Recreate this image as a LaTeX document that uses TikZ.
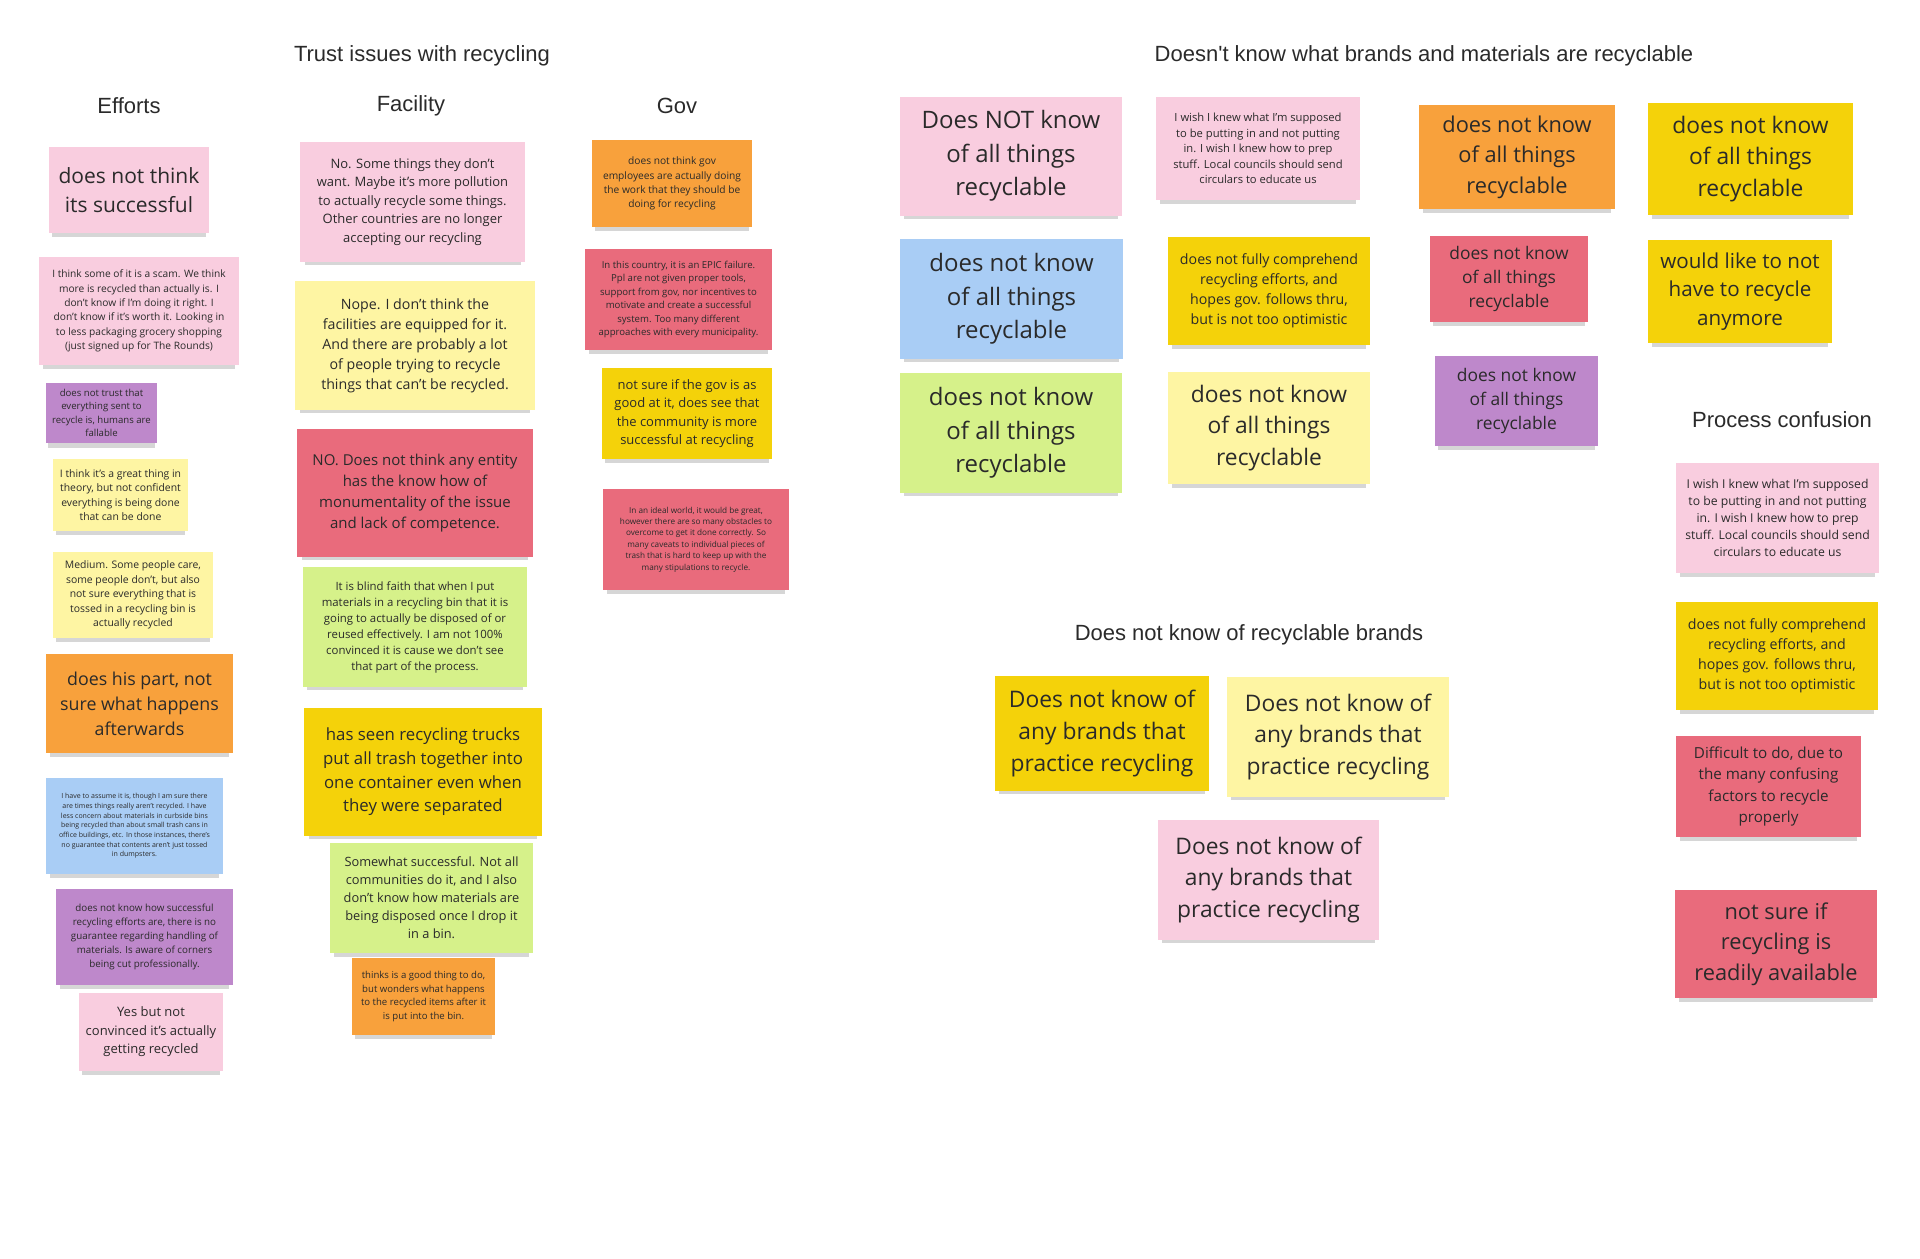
\documentclass[tikz,border=0pt]{standalone}
\usepackage{fontspec}
\setmainfont{Open Sans}
\newfontfamily\titlefont{Liberation Sans}
\usetikzlibrary{shadows}
\definecolor{pk}{HTML}{F9CDDF}
\definecolor{ly}{HTML}{FEF5A3}
\definecolor{yl}{HTML}{F4D20A}
\definecolor{og}{HTML}{F8A13C}
\definecolor{rd}{HTML}{E96B7C}
\definecolor{pu}{HTML}{BE88CB}
\definecolor{bl}{HTML}{A9CDF5}
\definecolor{lg}{HTML}{D6F18A}
\definecolor{txt}{HTML}{2A2A2A}
\newcommand\fz[2]{\fontsize{#1}{#2}\selectfont}
\tikzset{
  sticky/.style={draw=none, inner sep=0pt, align=center, text=txt,
    drop shadow={shadow xshift=0pt, shadow yshift=-3pt, opacity=0.16, fill=black, shadow scale=0.96}},
  sz/.style 2 args={minimum width=#1*0.5pt, minimum height=#2*0.5pt},
  ttl/.style={inner sep=0pt, text=txt, font={\titlefont\fz{11}{13}}}
}
\begin{document}
\begin{tikzpicture}[x=0.5pt, y=-0.5pt]
\useasboundingbox (0,0) rectangle (1920,1258);
% titles
\node[ttl] (t1) at (422,56) {Trust issues with recycling};
\node[ttl] (t2) at (1424,56) {Doesn't know what brands and materials are recyclable};
\node[ttl] (h1) at (129,106) {Efforts};
\node[ttl] (h2) at (411,106) {Facility};
\node[ttl] (h3) at (677,106) {Gov};
\node[ttl] (h4) at (1782,420) {Process confusion};
\node[ttl] (h5) at (1249,635) {Does not know of recyclable brands};
% Efforts
\node[sticky, fill=pk, sz={160}{86}, font={\fz{10.5}{14.7}}] (e1) at (129,190) {does not think\\its successful};
\node[sticky, fill=pk, sz={200}{108}, font={\fz{5.1}{7.2}}] (e2) at (139,311) {I think some of it is a scam. We think\\more is recycled than actually is. I\\don't know if I'm doing it right. I\\don't know if it's worth it. Looking in\\to less packaging grocery shopping\\(just signed up for The Rounds)};
\node[sticky, fill=pu, sz={111}{60}, font={\fz{4.8}{6.7}}] (e3) at (101.5,413) {does not trust that\\everything sent to\\recycle is, humans are\\fallable};
\node[sticky, fill=ly, sz={135}{72}, font={\fz{5.2}{7.25}}] (e4) at (120.5,495) {I think it's a great thing in\\theory, but not confident\\everything is being done\\that can be done};
\node[sticky, fill=ly, sz={160}{86}, font={\fz{5.2}{7.25}}] (e5) at (133,595) {Medium. Some people care,\\some people don't, but also\\not sure everything that is\\tossed in a recycling bin is\\actually recycled};
\node[sticky, fill=og, sz={187}{99}, font={\fz{8.9}{12.5}}] (e6) at (139.5,703.5) {does his part, not\\sure what happens\\afterwards};
\node[sticky, fill=bl, sz={177}{96}, font={\fz{3.5}{4.85}}] (e7) at (134.5,826) {I have to assume it is, though I am sure there\\are times things really aren't recycled. I have\\less concern about materials in curbside bins\\being recycled than about small trash cans in\\office buildings, etc. In those instances, there's\\no guarantee that contents aren't just tossed\\in dumpsters.};
\node[sticky, fill=pu, sz={177}{96}, font={\fz{4.9}{6.9}}] (e8) at (144.5,937) {does not know how successful\\recycling efforts are, there is no\\guarantee regarding handling of\\materials. Is aware of corners\\being cut professionally.};
\node[sticky, fill=pk, sz={144}{78}, font={\fz{6.5}{9.2}}] (e9) at (151,1032) {Yes but not\\convinced it's actually\\getting recycled};
% Facility
\node[sticky, fill=pk, sz={225}{120}, font={\fz{6.5}{9.2}}] (f1) at (412.5,202) {No. Some things they don't\\want. Maybe it's more pollution\\to actually recycle some things.\\Other countries are no longer\\accepting our recycling};
\node[sticky, fill=ly, sz={240}{129}, font={\fz{7.1}{10}}] (f2) at (415,345.5) {Nope. I don't think the\\facilities are equipped for it.\\And there are probably a lot\\of people trying to recycle\\things that can't be recycled.};
\node[sticky, fill=rd, sz={236}{128}, font={\fz{7.5}{10.5}}] (f3) at (415,493) {NO. Does not think any entity\\has the know how of\\monumentality of the issue\\and lack of competence.};
\node[sticky, fill=lg, sz={224}{120}, font={\fz{5.7}{8}}] (f4) at (415,627) {It is blind faith that when I put\\materials in a recycling bin that it is\\going to actually be disposed of or\\reused effectively. I am not 100\%\\convinced it is cause we don't see\\that part of the process.};
\node[sticky, fill=yl, sz={238}{128}, font={\fz{8.4}{11.8}}] (f5) at (423,772) {has seen recycling trucks\\put all trash together into\\one container even when\\they were separated};
\node[sticky, fill=lg, sz={203}{110}, font={\fz{6.4}{9}}] (f6) at (431.5,898) {Somewhat successful. Not all\\communities do it, and I also\\don't know how materials are\\being disposed once I drop it\\in a bin.};
\node[sticky, fill=og, sz={143}{77}, font={\fz{4.8}{6.7}}] (f7) at (423.5,996.5) {thinks is a good thing to do,\\but wonders what happens\\to the recycled items after it\\is put into the bin.};
% Gov
\node[sticky, fill=og, sz={160}{87}, font={\fz{5.1}{7.1}}] (g1) at (672,183.5) {does not think gov\\employees are actually doing\\the work that they should be\\doing for recycling};
\node[sticky, fill=rd, sz={187}{101}, font={\fz{4.8}{6.7}}] (g2) at (678.5,299.5) {In this country, it is an EPIC failure.\\Ppl are not given proper tools,\\support from gov, nor incentives to\\motivate and create a successful\\system. Too many different\\approaches with every municipality.};
\node[sticky, fill=yl, sz={170}{91}, font={\fz{6.5}{9.2}}] (g3) at (687,413.5) {not sure if the gov is as\\good at it, does see that\\the community is more\\successful at recycling};
\node[sticky, fill=rd, sz={186}{101}, font={\fz{4.1}{5.7}}] (g4) at (696,539.5) {In an ideal world, it would be great,\\however there are so many obstacles to\\overcome to get it done correctly. So\\many caveats to individual pieces of\\trash that is hard to keep up with the\\many stipulations to recycle.};
% Doesn't know brands/materials
\node[sticky, fill=pk, sz={222}{119}, font={\fz{12}{16.8}}] (a1) at (1011,156) {Does NOT know\\of all things\\recyclable};
\node[sticky, fill=bl, sz={223}{120}, font={\fz{12}{16.8}}] (a2) at (1011.5,299) {does not know\\of all things\\recyclable};
\node[sticky, fill=lg, sz={222}{120}, font={\fz{12}{16.8}}] (a3) at (1011,433) {does not know\\of all things\\recyclable};
\node[sticky, fill=pk, sz={204}{103}, font={\fz{5.6}{7.8}}] (b1) at (1258,148.5) {I wish I knew what I'm supposed\\to be putting in and not putting\\in. I wish I knew how to prep\\stuff. Local councils should send\\circulars to educate us};
\node[sticky, fill=yl, sz={202}{108}, font={\fz{7.1}{10}}] (b2) at (1269,291) {does not fully comprehend\\recycling efforts, and\\hopes gov. follows thru,\\but is not too optimistic};
\node[sticky, fill=ly, sz={202}{112}, font={\fz{11.4}{15.9}}] (b3) at (1269,428) {does not know\\of all things\\recyclable};
\node[sticky, fill=og, sz={196}{104}, font={\fz{10.9}{15.3}}] (c1) at (1517,157) {does not know\\of all things\\recyclable};
\node[sticky, fill=rd, sz={158}{86}, font={\fz{8.7}{12.2}}] (c2) at (1509,279) {does not know\\of all things\\recyclable};
\node[sticky, fill=pu, sz={163}{90}, font={\fz{8.7}{12.2}}] (c3) at (1516.5,401) {does not know\\of all things\\recyclable};
\node[sticky, fill=yl, sz={205}{112}, font={\fz{11.4}{15.9}}] (d1) at (1750.5,159) {does not know\\of all things\\recyclable};
\node[sticky, fill=yl, sz={184}{103}, font={\fz{10.3}{14.4}}] (d2) at (1740,291.5) {would like to not\\have to recycle\\anymore};
% Process confusion
\node[sticky, fill=pk, sz={203}{110}, font={\fz{6.1}{8.6}}] (p1) at (1777.5,518) {I wish I knew what I'm supposed\\to be putting in and not putting\\in. I wish I knew how to prep\\stuff. Local councils should send\\circulars to educate us};
\node[sticky, fill=yl, sz={202}{108}, font={\fz{7.1}{10}}] (p2) at (1777,656) {does not fully comprehend\\recycling efforts, and\\hopes gov. follows thru,\\but is not too optimistic};
\node[sticky, fill=rd, sz={185}{101}, font={\fz{7.6}{10.6}}] (p3) at (1768.5,786.5) {Difficult to do, due to\\the many confusing\\factors to recycle\\properly};
\node[sticky, fill=rd, sz={202}{108}, font={\fz{10.9}{15.3}}] (p4) at (1776,944) {not sure if\\recycling is\\readily available};
% Brands
\node[sticky, fill=yl, sz={214}{115}, font={\fz{11.4}{15.9}}] (r1) at (1102,733.5) {Does not know of\\any brands that\\practice recycling};
\node[sticky, fill=ly, sz={222}{120}, font={\fz{11.4}{15.9}}] (r2) at (1338,737) {Does not know of\\any brands that\\practice recycling};
\node[sticky, fill=pk, sz={221}{120}, font={\fz{11.4}{15.9}}] (r3) at (1268.5,880) {Does not know of\\any brands that\\practice recycling};
\end{tikzpicture}
\end{document}
